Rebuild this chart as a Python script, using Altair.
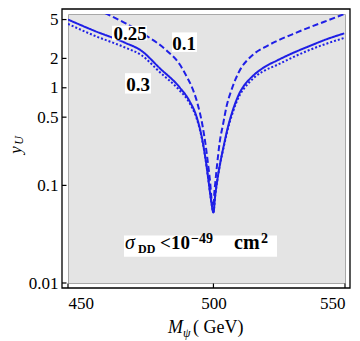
import altair as alt
import pandas as pd

# ---- data ----
series_names = ["0.25", "0.1", "0.3"]

M_025 = [450.0, 458.8, 468.8, 474.6, 480.9, 487.9, 491.4, 493.9, 495.7, 497.1, 498.2, 499.1, 500.0,
         500.6, 501.5, 502.6, 503.7, 505.1, 506.9, 509.5, 511.4, 513.2, 515.1, 518.8, 523.7,
         529.4, 535.2, 541.8, 549.7]
Y_025 = [5.00, 3.82, 2.91, 2.39, 1.59, 1.01, 0.732, 0.508, 0.322, 0.191, 0.113, 0.072, 0.053,
         0.077, 0.118, 0.178, 0.251, 0.378, 0.569, 0.878, 1.07, 1.22, 1.37, 1.63, 1.91,
         2.26, 2.62, 3.08, 3.61]

M_01 = [462.2, 469.4, 476.3, 483.2, 487.9, 490.3, 492.6, 494.4, 496.1, 497.1, 498.0, 498.8, 499.3, 500.0,
        500.2, 500.7, 501.4, 502.2, 503.5, 504.9, 506.4, 508.0, 510.1, 512.5, 515.1, 518.8,
        523.8, 529.4, 535.3, 541.8, 549.7]
Y_01 = [5.83, 4.53, 3.41, 2.43, 1.74, 1.32, 0.962, 0.668, 0.404, 0.268, 0.170, 0.108, 0.073, 0.053,
        0.073, 0.108, 0.170, 0.268, 0.423, 0.668, 0.919, 1.21, 1.59, 1.93, 2.25, 2.59,
        3.04, 3.53, 4.09, 4.75, 5.69]

M_03 = [450.0, 458.8, 468.8, 474.6, 480.9, 487.9, 491.4, 493.9, 495.7, 497.1, 498.2, 499.1, 500.0,
        500.6, 501.5, 502.6, 503.7, 505.1, 506.9, 509.5, 511.4, 513.2, 515.1, 518.8, 523.7,
        529.4, 535.2, 541.8, 549.7]
Y_03 = [4.51, 3.41, 2.60, 2.16, 1.45, 0.94, 0.70, 0.49, 0.315, 0.189, 0.112, 0.072, 0.053,
        0.077, 0.117, 0.176, 0.245, 0.365, 0.543, 0.830, 1.00, 1.14, 1.28, 1.50, 1.72,
        2.04, 2.39, 2.78, 3.24]

x_ticks = [450, 500, 550]
y_ticks = [0.01, 0.1, 0.5, 1, 2, 5]
x_domain = [450, 550]
y_domain = [0.01, 5.7]

curve_labels = ["0.25", "0.1", "0.3"]

# ---- build table ----
frames = []
for name, ms, ys in zip(series_names, [M_025, M_01, M_03], [Y_025, Y_01, Y_03]):
    frames.append(pd.DataFrame({"M": ms, "y": ys, "series": name}))
df = pd.concat(frames, ignore_index=True)

W, H = 277, 269
SERIF = "Liberation Serif"
BLUE = "#1f1fe6"

x_scale = alt.Scale(type="log", domain=x_domain, nice=False, zero=False)
y_scale = alt.Scale(type="log", domain=y_domain, nice=False, zero=False)
x_axis = alt.Axis(values=x_ticks, format="d", title=None, labelPadding=12,
                  labelFont=SERIF, labelFontSize=17, labelColor="black",
                  ticks=False, domain=False, grid=False)
y_axis = alt.Axis(values=y_ticks, format="~g", title=None, labelPadding=10,
                  labelFont=SERIF, labelFontSize=17, labelColor="black",
                  ticks=False, domain=False, grid=False)

lines = alt.Chart(df).mark_line(clip=True, strokeWidth=2, color=BLUE,
                                interpolate="monotone").encode(
    x=alt.X("M:Q", scale=x_scale, axis=x_axis),
    y=alt.Y("y:Q", scale=y_scale, axis=y_axis),
    strokeDash=alt.StrokeDash("series:N",
                              scale=alt.Scale(domain=series_names,
                                              range=[[1, 0], [6, 3], [2, 2]]),
                              legend=None),
    detail="series:N",
)

one = pd.DataFrame({"k": [0]})

frame = alt.Chart(one).mark_rect(fillOpacity=0, stroke="black", strokeWidth=1.3).encode(
    x=alt.value(-6), x2=alt.value(W + 5), y=alt.value(-5), y2=alt.value(H + 5))

ytick = alt.Chart(pd.DataFrame({"v": y_ticks})).mark_rule(color="black", strokeWidth=1.2).encode(
    y=alt.Y("v:Q", scale=y_scale, axis=y_axis), x=alt.value(-6), x2=alt.value(-1.5))
xtick = alt.Chart(pd.DataFrame({"v": x_ticks})).mark_rule(color="black", strokeWidth=1.2).encode(
    x=alt.X("v:Q", scale=x_scale, axis=x_axis), y=alt.value(H + 5), y2=alt.value(H + 0.5))


def box(x1, x2, y1, y2):
    return alt.Chart(one).mark_rect(color="white").encode(
        x=alt.value(x1), x2=alt.value(x2), y=alt.value(y1), y2=alt.value(y2))


def txt(s, x, y, size, weight="normal", style="normal", align="left", angle=0,
        baseline="alphabetic"):
    return alt.Chart(pd.DataFrame({"t": [s]})).mark_text(
        font=SERIF, fontSize=size, fontWeight=weight, fontStyle=style, align=align,
        baseline=baseline, angle=angle, color="black").encode(
        text="t:N", x=alt.value(x), y=alt.value(y))


boxes = [box(44, 79, 11.7, 26.2), box(104, 129, 18.4, 37.9), box(57, 83, 59.2, 79.6),
         box(56, 209, 221.4, 242.8)]

labels = [
    txt(curve_labels[0], 62, 25.5, 19, weight="bold", align="center"),
    txt(curve_labels[1], 116, 36.2, 19, weight="bold", align="center"),
    txt(curve_labels[2], 70, 76.7, 19, weight="bold", align="center"),
    # sigma_DD < 10^-49 cm^2
    txt("σ", 57, 235, 20, style="italic"),
    txt("DD", 70, 239, 12, weight="bold"),
    txt("<", 92, 235, 19, weight="bold"),
    txt("10", 103, 235, 19, weight="bold"),
    txt("−49", 123, 228.5, 14, weight="bold"),
    txt("cm", 166, 235, 20, weight="bold"),
    txt("2", 193, 228.5, 14, weight="bold"),
    # x title  M_psi ( GeV)
    txt("M", 100, 319, 18, style="italic"),
    txt("ψ", 115, 323, 12, style="italic"),
    txt("( GeV)", 125, 319, 18),
    # y title  y_U (rotated)
    txt("y", -47, 136, 17, style="italic", align="center", angle=270),
    txt("U", -45.5, 126.5, 12, style="italic", align="center", angle=270),
]

chart = alt.layer(lines, *boxes, frame, ytick, xtick, *labels).properties(
    width=W, height=H,
    autosize=alt.AutoSizeParams(type="none"),
    padding={"left": 60, "top": 6, "right": 7, "bottom": 58},
).configure_view(fill="#e4e4e4", stroke="#a8a8a8", strokeWidth=1)

chart.save("out.html", embed_options={"renderer": "svg", "actions": False})
